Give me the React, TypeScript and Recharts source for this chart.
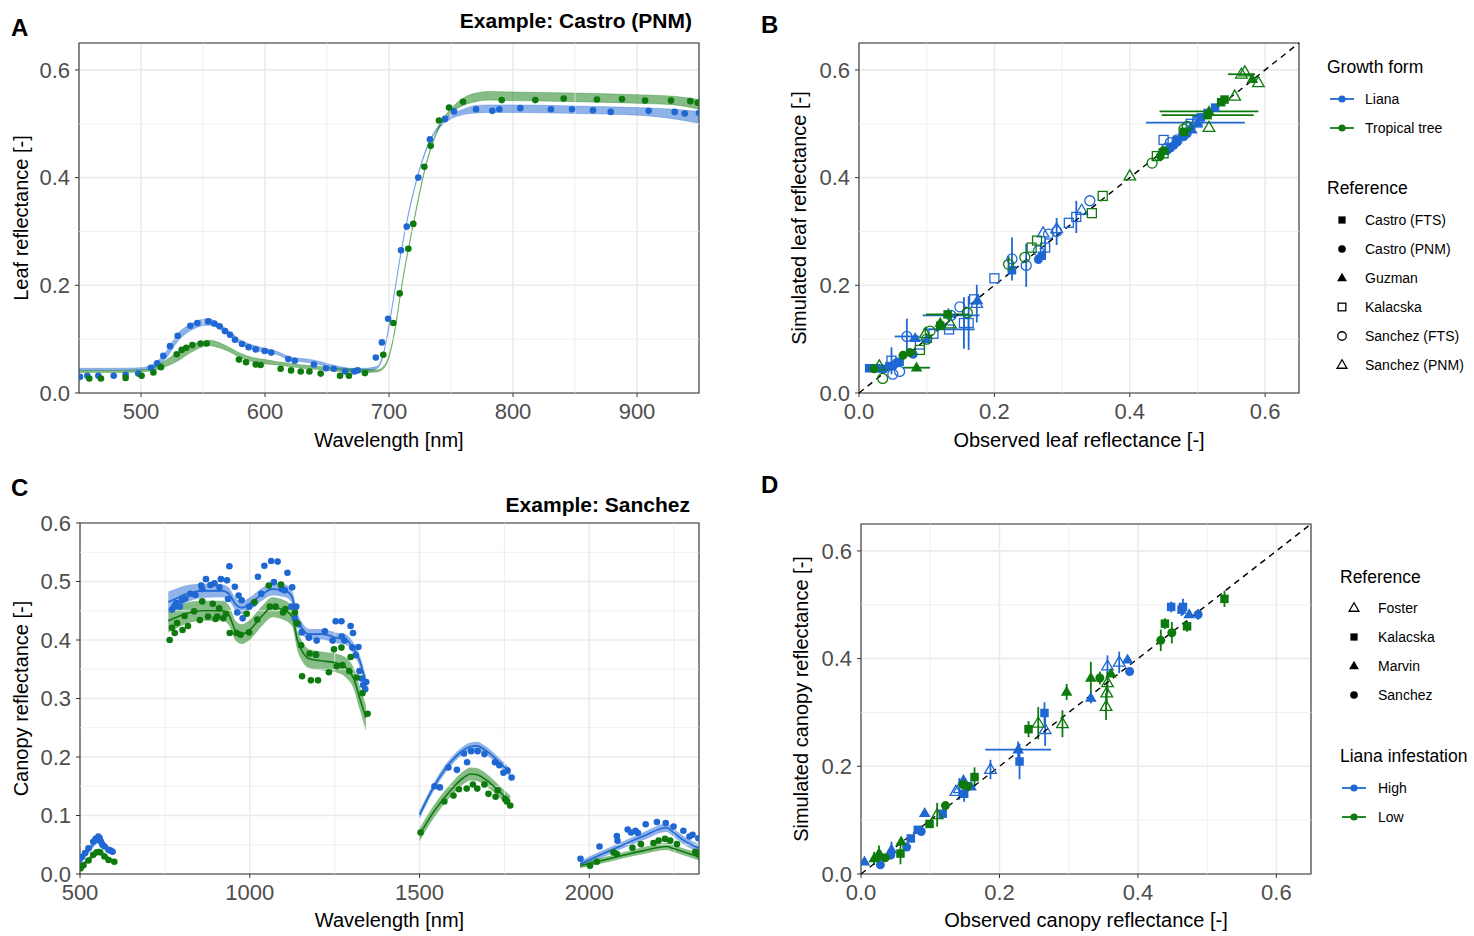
import React from "react";
import {
  Area,
  CartesianGrid,
  ComposedChart,
  ErrorBar,
  Line,
  ReferenceArea,
  ReferenceLine,
  Scatter,
  ScatterChart,
  XAxis,
  YAxis,
} from "recharts";

const FONT = "'Liberation Sans', Arial, Helvetica, sans-serif";
const BLUE = "#1f67d2";
const GREEN = "#0e7a0e";
const GRID = "#ebebeb";
const BORDER = "#333333";
const TICK = { fill: "#4d4d4d", fontSize: 22, fontFamily: FONT };

// ---------- panel A: leaf spectra (Castro PNM) ----------
const A_TICKS_X = [500, 600, 700, 800, 900];
const A_MINOR_X = [550, 650, 750, 850];
const LEAF_TICKS_Y = [0, 0.2, 0.4, 0.6];
const LEAF_MINOR = [0.1, 0.3, 0.5];

const A_GRID = [450, 480, 500, 510, 520, 530, 540, 550, 555, 560, 570, 580, 590, 600, 610, 620, 630, 640, 650, 660, 670, 680, 690, 695, 700, 705, 710, 715, 720, 725, 730, 735, 740, 750, 760, 770, 780, 800, 850, 900, 930, 950];
const A_BLUE_MID = [0.044, 0.044, 0.045, 0.05, 0.07, 0.104, 0.122, 0.131, 0.132, 0.128, 0.113, 0.095, 0.085, 0.079, 0.074, 0.064, 0.061, 0.058, 0.052, 0.046, 0.043, 0.043, 0.047, 0.068, 0.125, 0.195, 0.265, 0.325, 0.375, 0.418, 0.452, 0.477, 0.494, 0.513, 0.522, 0.527, 0.528, 0.528, 0.526, 0.523, 0.518, 0.512];
const A_BLUE_HW = [0.002, 0.002, 0.002, 0.004, 0.006, 0.007, 0.006, 0.006, 0.006, 0.005, 0.004, 0.004, 0.004, 0.004, 0.003, 0.003, 0.003, 0.003, 0.003, 0.003, 0.003, 0.003, 0.002, 0.002, 0.002, 0.002, 0.002, 0.002, 0.002, 0.002, 0.002, 0.002, 0.003, 0.004, 0.005, 0.007, 0.007, 0.007, 0.007, 0.007, 0.009, 0.011];
const A_GREEN_MID = [0.04, 0.04, 0.041, 0.045, 0.055, 0.068, 0.082, 0.091, 0.093, 0.091, 0.082, 0.07, 0.062, 0.058, 0.055, 0.052, 0.049, 0.047, 0.045, 0.043, 0.042, 0.041, 0.041, 0.046, 0.068, 0.12, 0.195, 0.26, 0.318, 0.375, 0.425, 0.463, 0.492, 0.524, 0.541, 0.549, 0.552, 0.551, 0.549, 0.546, 0.543, 0.536];
const A_GREEN_HW = [0.002, 0.002, 0.002, 0.003, 0.006, 0.008, 0.007, 0.005, 0.005, 0.005, 0.004, 0.004, 0.004, 0.004, 0.003, 0.003, 0.003, 0.003, 0.003, 0.003, 0.003, 0.003, 0.002, 0.002, 0.002, 0.002, 0.002, 0.002, 0.002, 0.002, 0.002, 0.002, 0.003, 0.004, 0.007, 0.008, 0.008, 0.008, 0.008, 0.008, 0.008, 0.009];

const A_BLUE_PTS = [
  [450.8, 0.03], [456.7, 0.032], [465.6, 0.032], [478, 0.032], [487.6, 0.034], [497.8, 0.036], [508, 0.047], [513, 0.055],
  [518, 0.069], [523.4, 0.087], [529.6, 0.106], [539.8, 0.125], [545.4, 0.13], [554.3, 0.133], [559.1, 0.129], [563.4, 0.124],
  [567.7, 0.115], [571.8, 0.108], [575.8, 0.099], [581.5, 0.091], [586.8, 0.085], [592.5, 0.081], [599.8, 0.078], [605, 0.075],
  [618.8, 0.063], [624, 0.06], [639.5, 0.053], [649.2, 0.046], [655.4, 0.045], [664.5, 0.04], [672, 0.04], [674.7, 0.042],
  [689.4, 0.066], [694.3, 0.094], [699.3, 0.138], [709.7, 0.265], [714.3, 0.309], [723.6, 0.4], [733, 0.471], [745.2, 0.509],
  [752.4, 0.523], [770.2, 0.527], [783.3, 0.524], [789, 0.527], [805.9, 0.529], [830.6, 0.527], [847.6, 0.527], [864.5, 0.525],
  [878.8, 0.522], [909.4, 0.524], [930.4, 0.522], [938.5, 0.519], [950, 0.52],
];
const A_GREEN_PTS = [
  [458.3, 0.027], [467.7, 0.027], [487.6, 0.028], [500.5, 0.032], [510, 0.038], [516.1, 0.048], [528.8, 0.072], [532.8, 0.08],
  [536.5, 0.084], [541.4, 0.089], [548.1, 0.092], [553, 0.092], [579, 0.062], [584.7, 0.057], [592.5, 0.053], [596.5, 0.052],
  [612.6, 0.045], [621, 0.042], [628.8, 0.04], [635.8, 0.04], [644.9, 0.036], [660.5, 0.032], [667.7, 0.032], [680.6, 0.037],
  [695.4, 0.071], [703.5, 0.13], [708.6, 0.185], [715.6, 0.268], [719.6, 0.314], [728.5, 0.42], [733.6, 0.459], [740.3, 0.506],
  [748.4, 0.53], [759.7, 0.541], [790.9, 0.544], [818, 0.544], [840.9, 0.547], [867.7, 0.545], [887.9, 0.546], [906.5, 0.543],
  [927.4, 0.543], [943, 0.542], [949, 0.539],
];

// ---------- panel C: canopy spectra (Sanchez) ----------
const C_TICKS_X = [500, 1000, 1500, 2000];
const C_MINOR_X = [750, 1250, 1750, 2250];
const C_TICKS_Y = [0, 0.1, 0.2, 0.3, 0.4, 0.5, 0.6];
const C_MINOR_Y = [0.05, 0.15, 0.25, 0.35, 0.45, 0.55];
const C_GAPS = [680, 1420, 1870];

// [nm, liana mid, liana half-width, tree mid, tree half-width]
const C_SEG1 = [
  [500, 0.02, 0.005, 0.011, 0.004], [515, 0.032, 0.005, 0.019, 0.004], [530, 0.044, 0.006, 0.027, 0.005],
  [545, 0.055, 0.006, 0.035, 0.005], [555, 0.06, 0.006, 0.039, 0.005], [565, 0.054, 0.006, 0.035, 0.005],
  [580, 0.045, 0.005, 0.028, 0.004], [597, 0.039, 0.005, 0.022, 0.004],
];
const C_SEG2 = [
  [760, 0.465, 0.018, 0.433, 0.02], [780, 0.47, 0.017, 0.438, 0.019], [810, 0.478, 0.015, 0.445, 0.018],
  [860, 0.484, 0.012, 0.45, 0.017], [920, 0.484, 0.011, 0.45, 0.017], [940, 0.478, 0.011, 0.441, 0.017],
  [958, 0.461, 0.011, 0.416, 0.017], [977, 0.455, 0.011, 0.41, 0.017], [997, 0.461, 0.011, 0.416, 0.017],
  [1036, 0.478, 0.011, 0.441, 0.017], [1066, 0.487, 0.011, 0.456, 0.017], [1105, 0.484, 0.011, 0.45, 0.017],
  [1125, 0.473, 0.011, 0.44, 0.017], [1140, 0.436, 0.011, 0.4, 0.017], [1155, 0.419, 0.01, 0.38, 0.017],
  [1175, 0.41, 0.009, 0.368, 0.016], [1215, 0.41, 0.009, 0.364, 0.016], [1253, 0.404, 0.009, 0.361, 0.016],
  [1283, 0.401, 0.009, 0.353, 0.017], [1307, 0.384, 0.01, 0.333, 0.018], [1322, 0.367, 0.01, 0.304, 0.02],
  [1342, 0.327, 0.012, 0.267, 0.022],
];
const C_SEG3 = [
  [1500, 0.101, 0.007, 0.067, 0.011], [1540, 0.147, 0.007, 0.105, 0.011], [1590, 0.19, 0.007, 0.142, 0.011],
  [1630, 0.212, 0.007, 0.165, 0.011], [1650, 0.218, 0.007, 0.171, 0.011], [1668, 0.219, 0.007, 0.17, 0.011],
  [1698, 0.21, 0.007, 0.16, 0.011], [1737, 0.19, 0.007, 0.14, 0.01], [1767, 0.173, 0.007, 0.124, 0.01],
];
const C_SEG4 = [
  [1973, 0.017, 0.005, 0.014, 0.004], [2030, 0.032, 0.006, 0.022, 0.005], [2100, 0.05, 0.006, 0.032, 0.005],
  [2160, 0.065, 0.007, 0.04, 0.006], [2227, 0.079, 0.007, 0.047, 0.006], [2250, 0.07, 0.007, 0.043, 0.006],
  [2277, 0.058, 0.007, 0.038, 0.006], [2323, 0.044, 0.007, 0.029, 0.006],
];

const C_BLUE_PTS = [
  [505, 0.029], [515, 0.036], [525, 0.044], [539, 0.055], [546, 0.06], [550, 0.058], [554, 0.064], [558, 0.061], [562, 0.055],
  [566, 0.05], [572, 0.047], [584, 0.041], [590, 0.04], [596, 0.038],
  [771, 0.452], [778, 0.457], [783, 0.463], [794, 0.457], [800, 0.468], [810, 0.471], [825, 0.479], [840, 0.477], [857, 0.493],
  [860, 0.487], [871, 0.504], [884, 0.494], [896, 0.497], [911, 0.49], [915, 0.504], [933, 0.502], [940, 0.526], [936, 0.47],
  [956, 0.491], [963, 0.447], [967, 0.476], [976, 0.468], [979, 0.437], [998, 0.457], [1012, 0.463], [1024, 0.508], [1034, 0.479],
  [1043, 0.527], [1063, 0.535], [1071, 0.499], [1082, 0.534], [1094, 0.487], [1111, 0.515], [1103, 0.485], [1125, 0.49],
  [1123, 0.457], [1133, 0.437], [1137, 0.457], [1143, 0.427], [1153, 0.413], [1174, 0.404], [1195, 0.375], [1197, 0.399],
  [1221, 0.415], [1244, 0.399], [1253, 0.432], [1270, 0.432], [1271, 0.406], [1279, 0.399], [1297, 0.424], [1304, 0.412],
  [1302, 0.387], [1320, 0.388], [1312, 0.374], [1323, 0.347], [1334, 0.323], [1343, 0.328], [1340, 0.316], [1329, 0.334],
  [1544, 0.15], [1560, 0.148], [1585, 0.182], [1610, 0.178], [1631, 0.206], [1640, 0.191], [1652, 0.21], [1671, 0.21],
  [1691, 0.205], [1722, 0.191], [1735, 0.186], [1747, 0.173], [1759, 0.177], [1771, 0.165],
  [1974, 0.026], [2030, 0.047], [2081, 0.065], [2083, 0.057], [2113, 0.076], [2123, 0.071], [2136, 0.074], [2143, 0.07],
  [2166, 0.085], [2199, 0.089], [2225, 0.087], [2248, 0.081], [2277, 0.074], [2295, 0.064], [2304, 0.067], [2321, 0.061],
];
const C_GREEN_PTS = [
  [502, 0.01], [510, 0.015], [525, 0.023], [539, 0.033], [549, 0.037], [559, 0.037], [572, 0.03], [584, 0.024], [601, 0.021],
  [764, 0.4], [771, 0.421], [779, 0.412], [786, 0.429], [802, 0.417], [808, 0.441], [818, 0.424], [836, 0.449], [853, 0.434],
  [860, 0.466], [877, 0.44], [891, 0.462], [899, 0.436], [910, 0.454], [904, 0.44], [922, 0.437], [930, 0.445], [941, 0.412],
  [961, 0.412], [973, 0.409], [991, 0.445], [998, 0.413], [1014, 0.465], [1022, 0.435], [1059, 0.457], [1056, 0.493],
  [1076, 0.457], [1092, 0.495], [1098, 0.447], [1105, 0.453], [1133, 0.447], [1139, 0.429], [1151, 0.391], [1154, 0.338],
  [1176, 0.377], [1180, 0.331], [1195, 0.375], [1201, 0.331], [1233, 0.345], [1248, 0.384], [1256, 0.355], [1270, 0.387],
  [1273, 0.357], [1293, 0.347], [1297, 0.371], [1315, 0.336], [1332, 0.309], [1347, 0.274],
  [1503, 0.071], [1573, 0.124], [1600, 0.134], [1616, 0.145], [1639, 0.146], [1657, 0.153], [1670, 0.146], [1691, 0.153],
  [1703, 0.137], [1724, 0.132], [1730, 0.143], [1752, 0.128], [1757, 0.124], [1767, 0.117],
  [2002, 0.014], [2022, 0.021], [2071, 0.037], [2081, 0.034], [2127, 0.045], [2152, 0.051], [2189, 0.053], [2204, 0.057],
  [2223, 0.06], [2238, 0.057], [2258, 0.051], [2312, 0.038], [2323, 0.033],
];

// ---------- panel B: leaf observed vs simulated ----------
// [observed, simulated, x error, y error]
const B_LIANA_CASTRO_FTS = [[0.015, 0.046], [0.025, 0.046], [0.035, 0.045], [0.045, 0.05], [0.06, 0.058], [0.226, 0.228], [0.27, 0.255], [0.47, 0.47], [0.478, 0.478], [0.505, 0.512], [0.515, 0.52], [0.526, 0.53]];
const B_LIANA_CASTRO_PNM = [[0.05, 0.05], [0.055, 0.056], [0.08, 0.072], [0.265, 0.248], [0.455, 0.45], [0.46, 0.455], [0.465, 0.46], [0.47, 0.466], [0.48, 0.476], [0.485, 0.482]];
const B_LIANA_GUZMAN = [[0.083, 0.102], [0.1, 0.1], [0.132, 0.147], [0.175, 0.172], [0.49, 0.49], [0.5, 0.5]];
const B_LIANA_KALACSKA = [[0.048, 0.06, 0, 0.025], [0.09, 0.09], [0.11, 0.11], [0.133, 0.118, 0.038, 0], [0.155, 0.13, 0, 0.048], [0.162, 0.13, 0, 0.05], [0.17, 0.174], [0.2, 0.213], [0.275, 0.27, 0, 0.02], [0.31, 0.316], [0.321, 0.327, 0, 0.03], [0.45, 0.47], [0.49, 0.5], [0.5, 0.505]];
const B_LIANA_SANCHEZ_FTS = [[0.05, 0.035], [0.06, 0.04], [0.0707, 0.105, 0.018, 0.033], [0.136, 0.144, 0.042, 0], [0.149, 0.16], [0.226, 0.249, 0, 0.04], [0.247, 0.237, 0, 0.04], [0.265, 0.264], [0.28, 0.295], [0.292, 0.3, 0, 0.025], [0.341, 0.357], [0.455, 0.455], [0.46, 0.465], [0.47, 0.47]];
const B_LIANA_SANCHEZ_PNM = [[0.174, 0.166, 0, 0.035], [0.272, 0.297], [0.292, 0.305], [0.329, 0.339], [0.49, 0.49], [0.497, 0.502, 0.073, 0]];
const B_TREE_CASTRO_FTS = [[0.131, 0.146, 0.032, 0], [0.12, 0.125], [0.48, 0.485], [0.515, 0.516, 0.068, 0], [0.535, 0.54], [0.54, 0.545]];
const B_TREE_CASTRO_PNM = [[0.022, 0.045], [0.065, 0.07], [0.075, 0.075], [0.445, 0.44], [0.45, 0.45]];
const B_TREE_GUZMAN = [[0.085, 0.047, 0.02, 0], [0.12, 0.13], [0.517, 0.523, 0.073, 0], [0.581, 0.583]];
const B_TREE_KALACSKA = [[0.09, 0.08], [0.255, 0.27], [0.263, 0.283], [0.344, 0.334], [0.36, 0.366], [0.44, 0.44], [0.45, 0.445]];
const B_TREE_SANCHEZ_FTS = [[0.035, 0.027], [0.1, 0.1], [0.105, 0.115], [0.16, 0.149], [0.221, 0.239, 0, 0.015], [0.245, 0.252], [0.433, 0.427], [0.48, 0.49], [0.485, 0.495]];
const B_TREE_SANCHEZ_PNM = [[0.03, 0.05], [0.098, 0.11], [0.135, 0.128], [0.4, 0.403], [0.517, 0.493], [0.555, 0.551], [0.565, 0.592, 0.02, 0], [0.57, 0.596], [0.59, 0.576]];

// ---------- panel D: canopy observed vs simulated ----------
const D_HIGH_FOSTER = [[0.137, 0.153], [0.142, 0.158, 0, 0.02], [0.187, 0.194, 0, 0.018], [0.266, 0.268, 0, 0.03], [0.356, 0.386, 0, 0.02], [0.373, 0.393, 0, 0.02]];
const D_HIGH_KALACSKA = [[0.072, 0.066], [0.082, 0.082], [0.118, 0.112], [0.149, 0.149, 0, 0.015], [0.229, 0.209, 0, 0.033], [0.265, 0.299, 0, 0.02], [0.448, 0.496, 0, 0.01], [0.463, 0.491, 0, 0.012], [0.465, 0.496, 0, 0.015]];
const D_HIGH_MARVIN = [[0.005, 0.023], [0.044, 0.045, 0, 0.015], [0.092, 0.113], [0.148, 0.174], [0.159, 0.162], [0.227, 0.231, 0.0475, 0.015], [0.332, 0.327, 0, 0.01], [0.385, 0.398], [0.474, 0.482]];
const D_HIGH_SANCHEZ = [[0.028, 0.017], [0.043, 0.035], [0.066, 0.05], [0.087, 0.079], [0.388, 0.376], [0.487, 0.482, 0, 0.01]];
const D_LOW_FOSTER = [[0.11, 0.11, 0, 0.022], [0.256, 0.28, 0, 0.03], [0.291, 0.279, 0, 0.025], [0.354, 0.311, 0, 0.025], [0.355, 0.336, 0, 0.02], [0.356, 0.355, 0, 0.02]];
const D_LOW_KALACSKA = [[0.057, 0.038, 0, 0.02], [0.099, 0.093], [0.164, 0.18, 0, 0.018], [0.242, 0.269, 0, 0.015], [0.439, 0.465, 0, 0.01], [0.471, 0.46, 0, 0.01], [0.525, 0.511, 0, 0.015]];
const D_LOW_MARVIN = [[0.019, 0.029, 0, 0.012], [0.026, 0.038, 0, 0.015], [0.029, 0.032], [0.058, 0.06], [0.297, 0.338, 0, 0.015], [0.332, 0.364, 0, 0.03], [0.361, 0.372]];
const D_LOW_SANCHEZ = [[0.035, 0.03], [0.122, 0.127], [0.147, 0.166], [0.154, 0.163], [0.345, 0.364, 0, 0.012], [0.433, 0.434, 0, 0.02], [0.449, 0.448, 0, 0.02]];

const OBS_TICKS = [0, 0.2, 0.4, 0.6];

const B_GROWTH = ["Liana", "Tropical tree"];
const B_REFS = ["Castro (FTS)", "Castro (PNM)", "Guzman", "Kalacska", "Sanchez (FTS)", "Sanchez (PNM)"];
const B_REF_KINDS = ["fSquare", "fCircle", "fTri", "oSquare", "oCircle", "oTri"];
const D_REFS = ["Foster", "Kalacska", "Marvin", "Sanchez"];
const D_REF_KINDS = ["oTri", "fSquare", "fTri", "fCircle"];
const D_INFEST = ["High", "Low"];

// ---------- helpers ----------
const toXY = (a: number[][], kx: string, ky: string) => a.map((p) => ({ [kx]: p[0], [ky]: p[1] }));
const toPts = (a: number[][]) => a.map(([x, y, ex = 0, ey = 0]) => ({ x, y, ex, ey }));
const segRows = (s: number[][]) => s.map(([nm, b, bw, g, gw]) => ({ nm, b, bw, g, gw }));
const ribbon = (k: string, w: string) => (d: any) => (d[k] == null ? null : [d[k] - d[w], d[k] + d[w]]);
const f1 = (v: number) => v.toFixed(1);

const aRows = A_GRID.map((nm, i) => ({ nm, b: A_BLUE_MID[i], bw: A_BLUE_HW[i], g: A_GREEN_MID[i], gw: A_GREEN_HW[i] }));
const cRows = [
  ...segRows(C_SEG1), { nm: C_GAPS[0] },
  ...segRows(C_SEG2), { nm: C_GAPS[1] },
  ...segRows(C_SEG3), { nm: C_GAPS[2] },
  ...segRows(C_SEG4),
];

function Marker({ cx, cy, kind, color, s }: any) {
  if (cx == null || cy == null || isNaN(cx) || isNaN(cy)) return null;
  const h = s / 2;
  const tri = `${cx},${cy - s * 0.62} ${cx - s * 0.58},${cy + s * 0.38} ${cx + s * 0.58},${cy + s * 0.38}`;
  switch (kind) {
    case "fSquare":
      return <rect x={cx - h * 0.85} y={cy - h * 0.85} width={s * 0.85} height={s * 0.85} fill={color} />;
    case "fCircle":
      return <circle cx={cx} cy={cy} r={h * 0.9} fill={color} />;
    case "fTri":
      return <polygon points={tri} fill={color} />;
    case "oSquare":
      return <rect x={cx - h * 0.9} y={cy - h * 0.9} width={s * 0.9} height={s * 0.9} fill="none" stroke={color} strokeWidth={1.3} />;
    case "oCircle":
      return <circle cx={cx} cy={cy} r={h} fill="none" stroke={color} strokeWidth={1.3} />;
    case "oTri":
      return <polygon points={tri} fill="none" stroke={color} strokeWidth={1.3} />;
    default:
      return <circle cx={cx} cy={cy} r={3.3} fill={color} />;
  }
}

const shape = (kind: string, color: string, s: number) => (p: any) => (
  <Marker cx={p.cx} cy={p.cy} kind={kind} color={color} s={s} />
);

const xLabel = (value: string) => ({ value, position: "insideBottom", offset: 3, fontSize: 20, fill: "#000", fontFamily: FONT });
const yLabel = (value: string, offset: number) => ({
  value, angle: -90, position: "insideLeft", offset, fontSize: 20, fill: "#000", fontFamily: FONT,
  style: { textAnchor: "middle" },
});

function minorLines(xs: number[], ys: number[]) {
  return [
    ...xs.map((v) => <ReferenceLine key={"mx" + v} x={v} stroke={GRID} strokeWidth={0.8} />),
    ...ys.map((v) => <ReferenceLine key={"my" + v} y={v} stroke={GRID} strokeWidth={0.8} />),
  ];
}

function PanelA() {
  return (
    <ComposedChart width={720} height={460} data={aRows} margin={{ top: 43, right: 21, bottom: 10, left: 0 }}>
      <CartesianGrid stroke={GRID} strokeWidth={1.6} />
      {minorLines(A_MINOR_X, LEAF_MINOR)}
      <XAxis type="number" dataKey="nm" domain={[450, 950]} ticks={A_TICKS_X} allowDataOverflow height={57}
        tick={TICK} tickSize={4} tickMargin={6} tickLine={{ stroke: BORDER }} axisLine={false} label={xLabel("Wavelength [nm]")} />
      <YAxis type="number" domain={[0, 0.65]} ticks={LEAF_TICKS_Y} tickFormatter={f1} allowDataOverflow width={79}
        tick={TICK} tickSize={4} tickMargin={5} tickLine={{ stroke: BORDER }} axisLine={false} label={yLabel("Leaf reflectance [-]", 21)} />
      <Area type="monotone" dataKey={ribbon("b", "bw")} fill={BLUE} fillOpacity={0.5} stroke={BLUE} strokeOpacity={0.35}
        strokeWidth={0.9} dot={false} activeDot={false} isAnimationActive={false} />
      <Area type="monotone" dataKey={ribbon("g", "gw")} fill={GREEN} fillOpacity={0.5} stroke={GREEN} strokeOpacity={0.35}
        strokeWidth={0.9} dot={false} activeDot={false} isAnimationActive={false} />
      <Scatter data={toXY(A_BLUE_PTS, "nm", "v")} dataKey="v" shape={shape("dot", BLUE, 7)} isAnimationActive={false} />
      <Scatter data={toXY(A_GREEN_PTS, "nm", "v")} dataKey="v" shape={shape("dot", GREEN, 7)} isAnimationActive={false} />
      <ReferenceArea x1={450} x2={950} y1={0} y2={0.65} fill="none" stroke={BORDER} strokeWidth={1.1} ifOverflow="visible" />
    </ComposedChart>
  );
}

function PanelC() {
  return (
    <ComposedChart width={720} height={456} data={cRows} margin={{ top: 43, right: 21, bottom: 6, left: 0 }}>
      <CartesianGrid stroke={GRID} strokeWidth={1.6} />
      {minorLines(C_MINOR_X, C_MINOR_Y)}
      <XAxis type="number" dataKey="nm" domain={[500, 2323]} ticks={C_TICKS_X} allowDataOverflow height={56}
        tick={TICK} tickSize={4} tickMargin={6} tickLine={{ stroke: BORDER }} axisLine={false} label={xLabel("Wavelength [nm]")} />
      <YAxis type="number" domain={[0, 0.6]} ticks={C_TICKS_Y} tickFormatter={f1} allowDataOverflow width={80}
        tick={TICK} tickSize={4} tickMargin={5} tickLine={{ stroke: BORDER }} axisLine={false} label={yLabel("Canopy reflectance [-]", 21)} />
      <Area type="monotone" dataKey={ribbon("b", "bw")} fill={BLUE} fillOpacity={0.5} stroke="none"
        dot={false} activeDot={false} isAnimationActive={false} />
      <Area type="monotone" dataKey={ribbon("g", "gw")} fill={GREEN} fillOpacity={0.5} stroke="none"
        dot={false} activeDot={false} isAnimationActive={false} />
      <Line type="monotone" dataKey="b" stroke={BLUE} strokeWidth={1.6} dot={false} activeDot={false} isAnimationActive={false} />
      <Line type="monotone" dataKey="g" stroke={GREEN} strokeWidth={1.6} dot={false} activeDot={false} isAnimationActive={false} />
      <Scatter data={toXY(C_BLUE_PTS, "nm", "v")} dataKey="v" shape={shape("dot", BLUE, 7)} isAnimationActive={false} />
      <Scatter data={toXY(C_GREEN_PTS, "nm", "v")} dataKey="v" shape={shape("dot", GREEN, 7)} isAnimationActive={false} />
      <ReferenceArea x1={500} x2={2323} y1={0} y2={0.6} fill="none" stroke={BORDER} strokeWidth={1.1} ifOverflow="visible" />
    </ComposedChart>
  );
}

function ObsSimChart({ series, size, width, height, yAxisWidth, marginTop, marginRight, xTitle, yTitle, yOffset }: any) {
  return (
    <ScatterChart width={width} height={height} margin={{ top: marginTop, right: marginRight, bottom: height > 458 ? 10 : 6, left: 0 }}>
      <CartesianGrid stroke={GRID} strokeWidth={1.6} />
      {minorLines(LEAF_MINOR, LEAF_MINOR)}
      <XAxis type="number" dataKey="x" domain={[0, 0.65]} ticks={OBS_TICKS} tickFormatter={f1} allowDataOverflow
        height={height > 458 ? 57 : 56} tick={TICK} tickSize={4} tickMargin={6} tickLine={{ stroke: BORDER }} axisLine={false}
        label={xLabel(xTitle)} />
      <YAxis type="number" dataKey="y" domain={[0, 0.65]} ticks={OBS_TICKS} tickFormatter={f1} allowDataOverflow width={yAxisWidth}
        tick={TICK} tickSize={4} tickMargin={5} tickLine={{ stroke: BORDER }} axisLine={false} label={yLabel(yTitle, yOffset)} />
      {series.map((ser: any, i: number) => (
        <Scatter key={i} data={toPts(ser.data)} dataKey="y" shape={shape(ser.kind, ser.color, size)} isAnimationActive={false}>
          <ErrorBar dataKey="ex" direction="x" width={0} stroke={ser.color} strokeWidth={1.8} />
          <ErrorBar dataKey="ey" direction="y" width={0} stroke={ser.color} strokeWidth={1.8} />
        </Scatter>
      ))}
      <ReferenceLine segment={[{ x: 0, y: 0 }, { x: 0.65, y: 0.65 }]} stroke="#000" strokeWidth={1.4} strokeDasharray="6 5" ifOverflow="visible" />
      <ReferenceArea x1={0} x2={0.65} y1={0} y2={0.65} fill="none" stroke={BORDER} strokeWidth={1.1} ifOverflow="visible" />
    </ScatterChart>
  );
}

const B_SERIES = [
  { kind: "fSquare", color: BLUE, data: B_LIANA_CASTRO_FTS },
  { kind: "fCircle", color: BLUE, data: B_LIANA_CASTRO_PNM },
  { kind: "fTri", color: BLUE, data: B_LIANA_GUZMAN },
  { kind: "oSquare", color: BLUE, data: B_LIANA_KALACSKA },
  { kind: "oCircle", color: BLUE, data: B_LIANA_SANCHEZ_FTS },
  { kind: "oTri", color: BLUE, data: B_LIANA_SANCHEZ_PNM },
  { kind: "fSquare", color: GREEN, data: B_TREE_CASTRO_FTS },
  { kind: "fCircle", color: GREEN, data: B_TREE_CASTRO_PNM },
  { kind: "fTri", color: GREEN, data: B_TREE_GUZMAN },
  { kind: "oSquare", color: GREEN, data: B_TREE_KALACSKA },
  { kind: "oCircle", color: GREEN, data: B_TREE_SANCHEZ_FTS },
  { kind: "oTri", color: GREEN, data: B_TREE_SANCHEZ_PNM },
];

const D_SERIES = [
  { kind: "oTri", color: BLUE, data: D_HIGH_FOSTER },
  { kind: "fSquare", color: BLUE, data: D_HIGH_KALACSKA },
  { kind: "fTri", color: BLUE, data: D_HIGH_MARVIN },
  { kind: "fCircle", color: BLUE, data: D_HIGH_SANCHEZ },
  { kind: "oTri", color: GREEN, data: D_LOW_FOSTER },
  { kind: "fSquare", color: GREEN, data: D_LOW_KALACSKA },
  { kind: "fTri", color: GREEN, data: D_LOW_MARVIN },
  { kind: "fCircle", color: GREEN, data: D_LOW_SANCHEZ },
];

function LineKey({ x, y, color }: any) {
  return (
    <g>
      <line x1={x - 12} x2={x + 12} y1={y} y2={y} stroke={color} strokeWidth={1.8} />
      <circle cx={x} cy={y} r={3.6} fill={color} />
    </g>
  );
}

function Overlay() {
  const title = { fontSize: 17.5, fill: "#000" };
  const item = { fontSize: 14, fill: "#000", dominantBaseline: "central" as const };
  return (
    <svg width={1474} height={936} style={{ position: "absolute", left: 0, top: 0, pointerEvents: "none", fontFamily: FONT }}>
      <text x={11} y={36} fontSize={24} fontWeight="bold">A</text>
      <text x={692} y={28} fontSize={21} fontWeight="bold" textAnchor="end">Example: Castro (PNM)</text>
      <text x={761} y={33} fontSize={24} fontWeight="bold">B</text>
      <text x={11} y={496} fontSize={24} fontWeight="bold">C</text>
      <text x={690} y={512} fontSize={21} fontWeight="bold" textAnchor="end">Example: Sanchez</text>
      <text x={761} y={493} fontSize={24} fontWeight="bold">D</text>

      <text x={1327} y={73} {...title}>Growth form</text>
      {B_GROWTH.map((t, i) => (
        <g key={t}>
          <LineKey x={1342} y={99 + i * 29} color={i === 0 ? BLUE : GREEN} />
          <text x={1365} y={99 + i * 29} {...item}>{t}</text>
        </g>
      ))}
      <text x={1327} y={194} {...title}>Reference</text>
      {B_REFS.map((t, i) => (
        <g key={t}>
          <Marker cx={1342} cy={220 + i * 29} kind={B_REF_KINDS[i]} color="#000" s={8.5} />
          <text x={1365} y={220 + i * 29} {...item}>{t}</text>
        </g>
      ))}

      <text x={1340} y={583} {...title}>Reference</text>
      {D_REFS.map((t, i) => (
        <g key={t}>
          <Marker cx={1354} cy={608 + i * 29} kind={D_REF_KINDS[i]} color="#000" s={8.5} />
          <text x={1378} y={608 + i * 29} {...item}>{t}</text>
        </g>
      ))}
      <text x={1340} y={762} {...title}>Liana infestation</text>
      {D_INFEST.map((t, i) => (
        <g key={t}>
          <LineKey x={1354} y={788 + i * 29} color={i === 0 ? BLUE : GREEN} />
          <text x={1378} y={788 + i * 29} {...item}>{t}</text>
        </g>
      ))}
    </svg>
  );
}

export default function App() {
  return (
    <div style={{ position: "absolute", left: 0, top: 0, width: 1474, height: 936, background: "#fff", fontFamily: FONT }}>
      <div style={{ position: "absolute", left: 0, top: 0 }}>
        <PanelA />
      </div>
      <div style={{ position: "absolute", left: 760, top: 0 }}>
        <ObsSimChart series={B_SERIES} size={10} width={560} height={460} yAxisWidth={99} marginTop={43} marginRight={21}
          xTitle="Observed leaf reflectance [-]" yTitle="Simulated leaf reflectance [-]" yOffset={39} />
      </div>
      <div style={{ position: "absolute", left: 0, top: 480 }}>
        <PanelC />
      </div>
      <div style={{ position: "absolute", left: 760, top: 480 }}>
        <ObsSimChart series={D_SERIES} size={10} width={580} height={456} yAxisWidth={101} marginTop={44} marginRight={29}
          xTitle="Observed canopy reflectance [-]" yTitle="Simulated canopy reflectance [-]" yOffset={41} />
      </div>
      <Overlay />
    </div>
  );
}
